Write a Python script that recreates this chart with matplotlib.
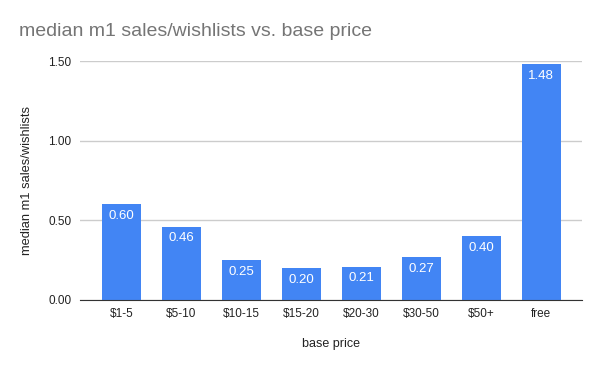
import matplotlib
matplotlib.use("Agg")
import matplotlib.pyplot as plt

categories = ["$1-5", "$5-10", "$10-15", "$15-20", "$20-30", "$30-50", "$50+", "free"]
values = [0.60, 0.46, 0.25, 0.20, 0.21, 0.27, 0.40, 1.48]
yticks = [0.0, 0.5, 1.0, 1.5]

plt.rcParams['font.family'] = ['Liberation Sans', 'DejaVu Sans']

fig = plt.figure(figsize=(6, 3.71), dpi=100)
ax = fig.add_axes([80 / 600, 1 - 300 / 371, 502 / 600, 239 / 371])

x = list(range(len(categories)))
ax.bar(x, values, width=0.65, color="#4285F4", zorder=2)
for xi, v in zip(x, values):
    ax.text(xi, v - 0.035, f"{v:.2f}", ha="center", va="top",
            color="white", fontsize=9.5, zorder=3)

ax.set_xlim(-0.69, 7.68)
ax.set_ylim(0, 1.5)
ax.set_yticks(yticks)
ax.set_yticklabels([f"{t:.2f}" for t in yticks])
ax.set_xticks(x)
ax.set_xticklabels(categories)
ax.tick_params(axis="both", length=0, labelsize=8.5, colors="#222222")
ax.tick_params(axis="y", pad=6)
ax.tick_params(axis="x", pad=6)
ax.grid(axis="y", color="#cccccc", linewidth=1, zorder=0)
for s in ["top", "right", "left"]:
    ax.spines[s].set_visible(False)
ax.spines["bottom"].set_color("#333333")
ax.spines["bottom"].set_zorder(4)

ax.set_ylabel("median m1 sales/wishlists", fontsize=9.3, color="#222222", labelpad=11)
ax.set_xlabel("base price", fontsize=9, color="#222222", labelpad=13)

fig.text(19 / 600, 1 - 32 / 371, "median m1 sales/wishlists vs. base price",
         fontsize=14, color="#757575", ha="left", va="center")

fig.savefig("out.png", dpi=100)
